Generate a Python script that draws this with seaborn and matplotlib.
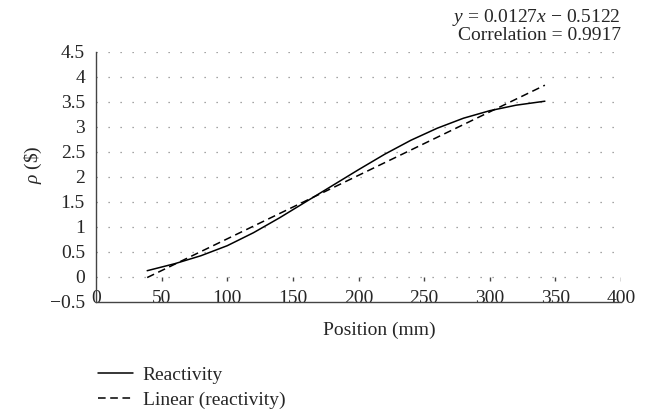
import numpy as np
import pandas as pd
import seaborn as sns
import matplotlib.pyplot as plt

# values
position = [39, 60, 80, 100, 120, 140, 160, 180, 200, 220, 240, 260, 280, 300, 320, 342]
reactivity = [0.12, 0.26, 0.42, 0.62, 0.88, 1.18, 1.50, 1.82, 2.14, 2.45, 2.73, 2.97, 3.17, 3.32, 3.43, 3.51]
fit_position = [39, 342]
fit_reactivity = [-0.017, 3.83]
x_ticks = [0, 50, 100, 150, 200, 250, 300, 350, 400]
y_ticks = [-0.5, 0, 0.5, 1, 1.5, 2, 2.5, 3, 3.5, 4, 4.5]
y_tick_labels = ["\u22120.5", "0", "0.5", "1", "1.5", "2", "2.5", "3", "3.5", "4", "4.5"]
equation = "$y$ = 0.0127$x$ \u2212 0.5122\nCorrelation = 0.9917"

sns.set_style("white")
plt.rcParams['font.family'] = ['Liberation Serif', 'DejaVu Serif']
plt.rcParams['mathtext.fontset'] = 'custom'
plt.rcParams['mathtext.rm'] = 'Liberation Serif'
plt.rcParams['mathtext.it'] = 'Liberation Serif:italic'
fs = 14
axcol = "#444444"

df = pd.DataFrame({"Position": position, "rho": reactivity})
df_fit = pd.DataFrame({"Position": fit_position, "rho": fit_reactivity})

fig = plt.figure(figsize=(6.54, 4.17), dpi=100)
ax = fig.add_axes([96/654, 1 - 301.7/417, 525/654, 250/417])

sns.lineplot(data=df, x="Position", y="rho", ax=ax, color="black", lw=1.1, label="Reactivity")
sns.lineplot(data=df_fit, x="Position", y="rho", ax=ax, color="black", lw=1.1,
             linestyle=(0, (5, 3)), label="Linear (reactivity)")

ax.set_xlim(0, 400)
ax.set_ylim(-0.5, 4.5)
ax.set_xticks(x_ticks)
ax.set_yticks(y_ticks)
ax.set_yticklabels(y_tick_labels)

# dotted horizontal grid, except at the bottom
for v in y_ticks[1:]:
    ax.axhline(v, color="#888888", lw=0.9, linestyle=(0, (1, 8.6)), zorder=0)

for s in ["top", "right"]:
    ax.spines[s].set_visible(False)
for s in ["left", "bottom"]:
    ax.spines[s].set_color(axcol)
    ax.spines[s].set_linewidth(1.0)

ax.tick_params(axis="y", direction="out", length=3, width=1, color=axcol, pad=5, labelsize=fs)
ax.tick_params(axis="x", length=0, pad=-8.5, labelsize=fs)

# small tick marks hanging under the zero line
ax.vlines(x_ticks[1:], -0.08, 0, color=axcol, lw=1.0)

ax.set_xlabel("Position (mm)", fontsize=fs)
ax.xaxis.set_label_coords(283/525, -0.08)
ax.set_ylabel(r"$\rho$ (\$)", fontsize=fs)
ax.yaxis.set_label_coords(-0.10, 0.55)

ax.text(1.0, 1.03, equation, transform=ax.transAxes, ha="right", va="bottom",
        fontsize=fs, linespacing=0.95)

ax.get_legend().remove()
handles, labels = ax.get_legend_handles_labels()
fig.legend(handles, labels, loc="upper left", bbox_to_anchor=(98/654, 1 - 366/417), frameon=False,
           fontsize=fs, handlelength=1.8, labelspacing=0.4, borderpad=0, borderaxespad=0,
           handletextpad=0.5)

plt.savefig("out.png", dpi=100)
